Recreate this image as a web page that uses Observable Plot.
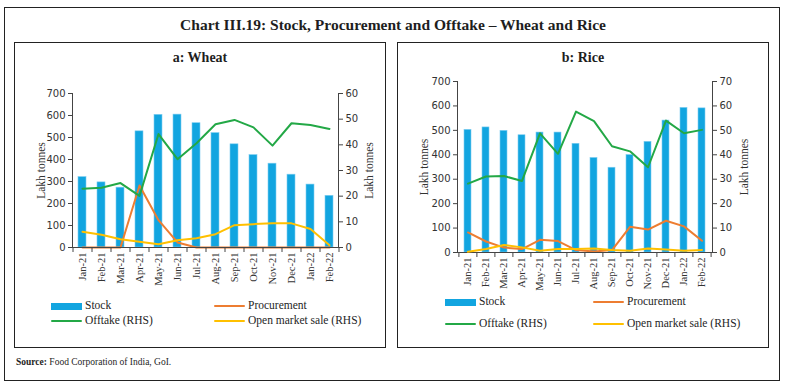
<!DOCTYPE html>
<html><head><meta charset="utf-8">
<script src="https://cdn.jsdelivr.net/npm/d3@7"></script>
<script src="https://cdn.jsdelivr.net/npm/@observablehq/plot@0.6"></script>
<style>
body{margin:0;background:#fff;}
#root{position:relative;width:786px;height:386px;font-family:"Liberation Serif",serif;color:#1e1e1e;overflow:hidden;}
.box{position:absolute;border:1.6px solid #222;box-sizing:border-box;}
.title{position:absolute;left:0;width:786px;text-align:center;font-weight:bold;font-size:15.5px;top:16px;}
.ptitle{position:absolute;text-align:center;font-weight:bold;font-size:14px;top:50px;}
.leg{position:absolute;font-size:11.5px;line-height:13px;white-space:nowrap;}
.sw{position:absolute;}
.src{position:absolute;left:16px;top:357px;font-size:9.5px;}
</style></head>
<body><div id="root"></div>
<script>
const months = ["Jan-21","Feb-21","Mar-21","Apr-21","May-21","Jun-21","Jul-21","Aug-21","Sep-21","Oct-21","Nov-21","Dec-21","Jan-22","Feb-22"];
const wheatStock   = [320,296,272,528,603,604,565,520,469,420,381,331,286,235];
const wheatProc    = [0,0,0,282,124,23,0,0,0,0,0,0,0,0];
const wheatOfftake = [22.9,23.3,25.1,20.1,44.2,34.4,40.6,48.0,49.7,46.8,39.7,48.4,47.7,46.2];
const wheatOMS     = [6.1,5.0,3.2,2.2,1.3,2.8,3.6,5.2,8.7,9.1,9.4,9.4,7.2,0.9];
const riceStock    = [502,512,498,480,491,491,445,387,347,399,453,540,592,590];
const riceProc     = [82,45,20,14,52,47,10,4,10,105,94,130,107,48];
const riceOfftake  = [28.2,31.1,31.3,29.3,48.8,40.4,57.7,53.8,43.5,41.4,34.9,54.0,48.8,50.2];
const riceOMS      = [0.3,1.4,3.1,2.1,0.7,1.4,1.4,1.6,1.0,0.7,1.6,1.2,0.7,1.0];
const lhsTicks = [0,100,200,300,400,500,600,700];
const wheatRhsTicks = [0,10,20,30,40,50,60];
const riceRhsTicks = [0,10,20,30,40,50,60,70];
const seriesNames = ["Stock","Procurement","Offtake (RHS)","Open market sale (RHS)"];
const colors = {stock:"#12A5E0", proc:"#ED7D31", off:"#23A846", oms:"#FFC000"};

const root = document.getElementById("root");
function el(cls, style, html){const d=document.createElement("div");d.className=cls;Object.assign(d.style,style);if(html!=null)d.innerHTML=html;root.appendChild(d);return d;}

el("box",{left:"4px",top:"7px",width:"776px",height:"374px"});
el("title",{}, "Chart III.19: Stock, Procurement and Offtake – Wheat and Rice");
el("box",{left:"14px",top:"42px",width:"372px",height:"306px"});
el("box",{left:"397px",top:"42px",width:"372px",height:"306px"});
el("ptitle",{left:"14px",width:"372px"},"a: Wheat");
el("ptitle",{left:"397px",width:"372px"},"b: Rice");
el("src",{},"<b>Source:</b> Food Corporation of India, GoI.");

const tickFont = "DejaVu Sans, sans-serif";
const serif = "Liberation Serif, serif";

function panel(o){
  const data = months.map((m,i)=>({month:m, stock:o.stock[i], proc:o.proc[i], off:o.off[i], oms:o.oms[i]}));
  const step = (o.width - o.ml - o.mr)/months.length;
  const common = {width:o.width, height:o.height, marginLeft:o.ml, marginRight:o.mr, marginTop:o.mt, marginBottom:o.mb,
    style:{background:"transparent", overflow:"visible", fontFamily:tickFont, fontSize:"10px", color:"#333"}};
  const xs = {domain:months, type:"band", paddingInner:0.6, paddingOuter:0.3};
  const p1 = Plot.plot({...common,
    x:{...xs},
    y:{domain:[0,o.lhsTicks[o.lhsTicks.length-1]]},
    marks:[
      Plot.barY(data,{x:"month",y:"stock",fill:colors.stock,stroke:"#7fcdf0",strokeWidth:0.6}),
      Plot.line(data,{x:"month",y:"proc",stroke:colors.proc,strokeWidth:2}),
      Plot.axisY({anchor:"left",ticks:o.lhsTicks,tickSize:4,tickPadding:3,label:null,stroke:"#444",fill:"#333"}),
      Plot.axisY({anchor:"left",ticks:[],label:"Lakh tonnes",labelArrow:"none",labelAnchor:"center",labelOffset:o.lo,fontFamily:serif,fontSize:11.5,fill:"#333"}),
      Plot.axisX({tickSize:0,tickRotate:-90,tickPadding:5,label:null,fontFamily:serif,fontSize:10.5,fill:"#333"}),
      Plot.axisX({tickSize:5,tickFormat:()=>"",label:null,dx:-step/2,stroke:"#444"}),
      Plot.axisX([months[months.length-1]],{tickSize:5,tickFormat:()=>"",label:null,dx:step/2,stroke:"#444"}),
      Plot.frame({anchor:"left",stroke:"#444"}),
      Plot.frame({anchor:"bottom",stroke:"#444"})
    ]});
  const p2 = Plot.plot({...common,
    x:{...xs, axis:null},
    y:{domain:[0,o.rhsTicks[o.rhsTicks.length-1]]},
    marks:[
      Plot.line(data,{x:"month",y:"oms",stroke:colors.oms,strokeWidth:2}),
      Plot.line(data,{x:"month",y:"off",stroke:colors.off,strokeWidth:2}),
      Plot.axisY({anchor:"right",ticks:o.rhsTicks,tickSize:4,tickPadding:3,label:null,stroke:"#444",fill:"#333"}),
      Plot.axisY({anchor:"right",ticks:[],label:"Lakh tonnes",labelArrow:"none",labelAnchor:"center",labelOffset:o.ro,fontFamily:serif,fontSize:11.5,fill:"#333"}),
      Plot.frame({anchor:"right",stroke:"#444"})
    ]});
  for (const p of [p1,p2]) { p.style.position="absolute"; p.style.left=o.left+"px"; p.style.top=o.top+"px"; root.appendChild(p); }
  const L = o.leg;
  const items = [
    {name:seriesNames[0], c:colors.stock, h:7, x:L.x1, y:L.y1},
    {name:seriesNames[1], c:colors.proc, h:2.5, x:L.x2, y:L.y1},
    {name:seriesNames[2], c:colors.off, h:2.5, x:L.x1, y:L.y2},
    {name:seriesNames[3], c:colors.oms, h:2.5, x:L.x2, y:L.y2}];
  for (const it of items){
    el("sw",{left:it.x+"px",top:(it.y-it.h/2)+"px",width:"31px",height:it.h+"px",background:it.c,borderRadius:it.h<5?"1.5px":"0"});
    el("leg",{left:(it.x+34)+"px",top:(it.y-7)+"px"},it.name);
  }
}

panel({left:14, top:83, width:372, height:210, ml:58, mr:48, mt:10, mb:46,
  stock:wheatStock, proc:wheatProc, off:wheatOfftake, oms:wheatOMS,
  lhsTicks:lhsTicks, rhsTicks:wheatRhsTicks, lo:36, ro:34,
  leg:{x1:51, x2:214, y1:306, y2:321}});
panel({left:397, top:71, width:372, height:227, ml:60, mr:57, mt:10, mb:46,
  stock:riceStock, proc:riceProc, off:riceOfftake, oms:riceOMS,
  lhsTicks:lhsTicks, rhsTicks:riceRhsTicks, lo:38, ro:35,
  leg:{x1:445, x2:593, y1:302, y2:324}});
</script></body></html>
